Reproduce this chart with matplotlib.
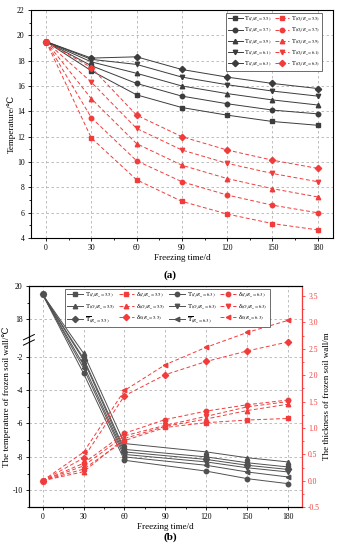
import numpy as np
import matplotlib
matplotlib.use('Agg')
from matplotlib import pyplot as plt
from matplotlib.ticker import MultipleLocator, FixedLocator, FormatStrFormatter

plt.rcParams['font.family'] = ['Liberation Serif', 'DejaVu Serif']
plt.rcParams['mathtext.fontset'] = 'stix'
plt.rcParams['font.size'] = 5.5

RED = '#f23c3c'
DARK = '#3c3c3c'

# ---- panel (a) data ----
days_a = [0, 30, 60, 90, 120, 150, 180]
ratios_a = ['5.5', '5.7', '5.9', '6.1', '6.3']
markers_a = ['s', 'o', '^', 'v', 'D']
t_inner = [
    [19.5, 17.2, 15.3, 14.3, 13.7, 13.2, 12.9],
    [19.5, 17.6, 16.2, 15.2, 14.6, 14.1, 13.8],
    [19.5, 17.9, 17.0, 16.0, 15.4, 14.9, 14.5],
    [19.5, 18.1, 17.7, 16.7, 16.1, 15.6, 15.2],
    [19.5, 18.2, 18.3, 17.3, 16.7, 16.2, 15.8],
]
t_outer = [
    [19.5, 11.9, 8.6, 6.9, 5.9, 5.15, 4.65],
    [19.5, 13.5, 10.1, 8.45, 7.4, 6.6, 6.0],
    [19.5, 15.0, 11.45, 9.75, 8.7, 7.9, 7.25],
    [19.5, 16.3, 12.65, 10.95, 9.9, 9.1, 8.45],
    [19.5, 17.45, 13.7, 12.0, 10.95, 10.15, 9.5],
]

# ---- panel (b) data ----
days_t = [0, 30, 60, 120, 150, 180]
days_d = [0, 30, 60, 90, 120, 150, 180]
# temperature of frozen soil wall (left axis)
t_i55 = [19.5, -2.1, -7.55, -8.0, -8.35, -8.6]
t_i63 = [19.5, -3.0, -8.2, -8.85, -9.3, -9.6]
t_o55 = [19.5, -1.8, -7.2, -7.7, -8.05, -8.3]
t_o63 = [19.5, -2.5, -7.85, -8.3, -8.65, -8.9]
t_m55 = [19.5, -2.2, -7.7, -8.15, -8.5, -8.75]
t_m63 = [19.5, -2.7, -8.0, -8.5, -8.9, -9.2]
# thickness of frozen soil wall (right axis)
d_i55 = [0.0, 0.22, 0.76, 1.01, 1.1, 1.15, 1.18]
d_i63 = [0.0, 0.33, 0.9, 1.16, 1.32, 1.44, 1.53]
d_o55 = [0.0, 0.17, 0.8, 1.03, 1.17, 1.33, 1.45]
d_o63 = [0.0, 0.28, 0.85, 1.05, 1.22, 1.4, 1.5]
d_055 = [0.0, 0.43, 1.61, 2.01, 2.26, 2.46, 2.63]
d_063 = [0.0, 0.54, 1.71, 2.2, 2.53, 2.81, 3.04]


def brk_fwd(y):
    y = np.asarray(y, dtype=float)
    return np.where(y <= -1, y,
                    np.where(y >= 17, y - 17.78, -1 + (y + 1) * 0.22 / 18))


def brk_inv(f):
    f = np.asarray(f, dtype=float)
    return np.where(f <= -1, f,
                    np.where(f >= -0.78, f + 17.78, -1 + (f + 1) * 18 / 0.22))


def style_axis(ax):
    ax.tick_params(which='both', direction='out', width=0.6, labelsize=5.5, pad=2)
    ax.tick_params(which='major', length=2.5)
    ax.tick_params(which='minor', length=1.5)
    for s in ax.spines.values():
        s.set_linewidth(0.8)
    ax.grid(True, which='major', ls=(0, (3, 3)), color='#b4b4b4', lw=0.6)
    ax.set_axisbelow(True)


fig = plt.figure(figsize=(3.4, 5.5), dpi=100)

# ---------- (a) ----------
ax1 = fig.add_axes([0.091, 0.567, 0.888, 0.415])
style_axis(ax1)
handles_i, handles_o = [], []
for vals, m, r in zip(t_inner, markers_a, ratios_a):
    h, = ax1.plot(days_a, vals, '-', color=DARK, lw=0.7, marker=m, ms=3.2,
                  label=r'T$_{(I_f/R_a=%s)}$' % r)
    handles_i.append(h)
for vals, m, r in zip(t_outer, markers_a, ratios_a):
    h, = ax1.plot(days_a, vals, '--', color=RED, lw=0.7, marker=m, ms=3.2,
                  dashes=(4, 2.5), label=r'T$_{(O_f/R_a=%s)}$' % r)
    handles_o.append(h)
ax1.set_xlim(-10, 190)
ax1.set_ylim(4, 22)
ax1.xaxis.set_major_locator(MultipleLocator(30))
ax1.xaxis.set_minor_locator(MultipleLocator(15))
ax1.yaxis.set_major_locator(MultipleLocator(2))
ax1.yaxis.set_minor_locator(MultipleLocator(1))
ax1.set_xlabel('Freezing time/d', fontsize=6.5, labelpad=1)
ax1.set_ylabel('Temperature/\u2103', fontsize=6.5, labelpad=1)
leg = ax1.legend(handles_i + handles_o, [h.get_label() for h in handles_i + handles_o],
                 ncol=2, loc='upper right', fontsize=4.7, fancybox=False,
                 edgecolor='#555555', framealpha=1, borderpad=0.3, labelspacing=0.35,
                 handlelength=2.2, handletextpad=0.3, columnspacing=0.4,
                 bbox_to_anchor=(0.975, 1.0))
leg.get_frame().set_linewidth(0.6)
fig.text(0.5, 0.5, '(a)', ha='center', va='center', fontsize=8, fontweight='bold')

# ---------- (b) ----------
ax2 = fig.add_axes([0.085, 0.078, 0.803, 0.402])
ax2.set_yscale('function', functions=(brk_fwd, brk_inv))
style_axis(ax2)
ax3 = ax2.twinx()

tk = dict(color='#505050', lw=0.7, ms=3.2)
dk = dict(color=RED, lw=0.7, ms=3.2, dashes=(4, 2.5))
h_ti55, = ax2.plot(days_t, t_i55, '-', marker='s', label=r'T$_{(I_f/R_a=5.5)}$', **tk)
h_ti63, = ax2.plot(days_t, t_i63, '-', marker='o', label=r'T$_{(I_f/R_a=6.3)}$', **tk)
h_to55, = ax2.plot(days_t, t_o55, '-', marker='^', label=r'T$_{(O_f/R_a=5.5)}$', **tk)
h_to63, = ax2.plot(days_t, t_o63, '-', marker='v', label=r'T$_{(O_f/R_a=6.3)}$', **tk)
h_tm55, = ax2.plot(days_t, t_m55, '-', marker='D', label=r'$\overline{\mathrm{T}}_{(R_a=5.5)}$', **tk)
h_tm63, = ax2.plot(days_t, t_m63, '-', marker='<', label=r'$\overline{\mathrm{T}}_{(R_a=6.3)}$', **tk)

h_di55, = ax3.plot(days_d, d_i55, '--', marker='s', label=r'δ$_{(I_f/R_a=5.5)}$', **dk)
h_di63, = ax3.plot(days_d, d_i63, '--', marker='o', label=r'δ$_{(I_f/R_a=6.3)}$', **dk)
h_do55, = ax3.plot(days_d, d_o55, '--', marker='^', label=r'δ$_{(O_f/R_a=5.5)}$', **dk)
h_do63, = ax3.plot(days_d, d_o63, '--', marker='v', label=r'δ$_{(O_f/R_a=6.3)}$', **dk)
h_d055, = ax3.plot(days_d, d_055, '--', marker='D', label=r'δ$_{0(R_a=5.5)}$', **dk)
h_d063, = ax3.plot(days_d, d_063, '--', marker='<', label=r'δ$_{0(R_a=6.3)}$', **dk)

ax2.set_xlim(-10, 190)
ax2.set_ylim(-11, 20)
ax2.xaxis.set_major_locator(MultipleLocator(30))
ax2.xaxis.set_minor_locator(MultipleLocator(15))
ax2.yaxis.set_major_locator(FixedLocator([-10, -8, -6, -4, -2, 18, 20]))
ax2.yaxis.set_minor_locator(FixedLocator([-11, -9, -7, -5, -3, 19]))
ax2.yaxis.set_major_formatter(FormatStrFormatter('%g'))
ax2.yaxis.set_minor_formatter(FormatStrFormatter(''))
ax2.set_xlabel('Freezing time/d', fontsize=6.5, labelpad=1)
ax2.set_ylabel('The temperature of frozen soil wall/\u2103', fontsize=6.5, labelpad=1)

ax3.set_ylim(-0.5, 3.69)
ax3.yaxis.set_major_locator(MultipleLocator(0.5))
ax3.yaxis.set_minor_locator(MultipleLocator(0.25))
ax3.yaxis.set_major_formatter(FormatStrFormatter('%.1f'))
ax3.tick_params(which='both', direction='out', width=0.6, labelsize=5.5, pad=2,
                colors=RED, labelcolor=RED)
ax3.tick_params(which='major', length=2.5)
ax3.tick_params(which='minor', length=1.5)
ax3.spines['right'].set_color(RED)
ax3.spines['right'].set_linewidth(0.8)
ax3.set_ylabel('The thickness of frozen soil wall/m', fontsize=6.5, labelpad=2)

# axis break marks on the left spine
yb = ax2.transAxes.inverted().transform(ax2.transData.transform((0, -0.9)))[1]
for dy in (-0.012, 0.012):
    ax2.plot([-0.02, 0.02], [yb + dy - 0.012, yb + dy + 0.012], transform=ax2.transAxes,
             color='black', lw=0.7, clip_on=False, zorder=5)

hs = [h_ti55, h_to55, h_tm55, h_di55, h_do55, h_d055,
      h_ti63, h_to63, h_tm63, h_di63, h_do63, h_d063]
leg2 = ax3.legend(hs, [h.get_label() for h in hs], ncol=4, loc='upper left',
                  bbox_to_anchor=(0.12, 1.0), fontsize=4.9, fancybox=False,
                  edgecolor='#555555', framealpha=1, borderpad=0.3, labelspacing=0.35,
                  handlelength=2.3, handletextpad=0.3, columnspacing=0.5)
leg2.get_frame().set_linewidth(0.6)
fig.text(0.5, 0.024, '(b)', ha='center', va='center', fontsize=8, fontweight='bold')

fig.savefig('out.png', dpi=100)
